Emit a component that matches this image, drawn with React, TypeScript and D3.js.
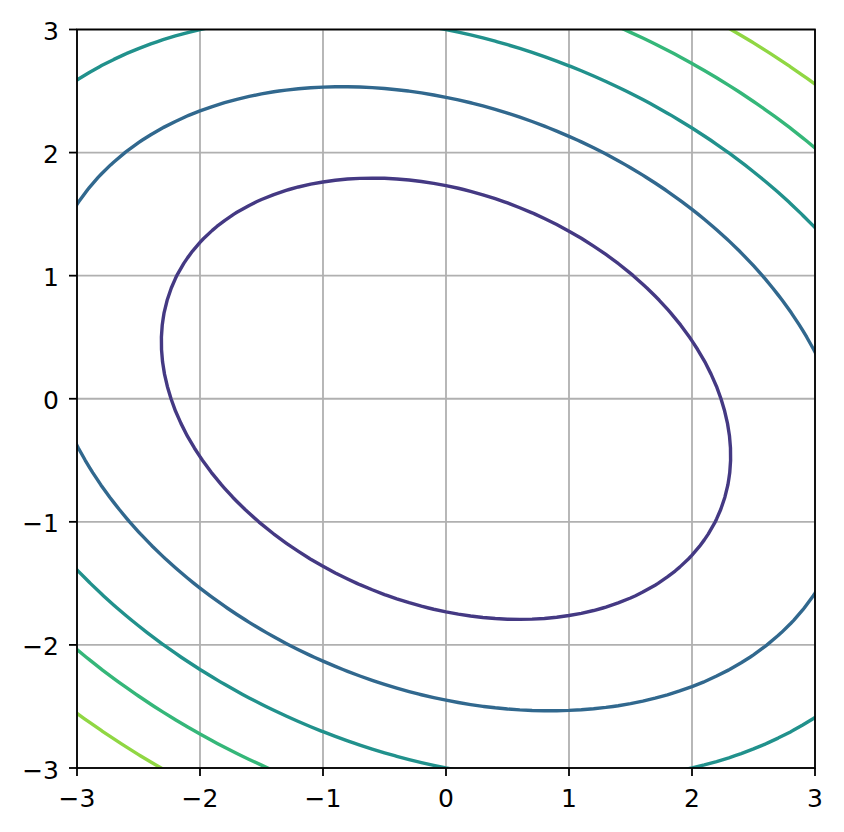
import { useEffect, useRef } from 'react'
import * as d3 from 'd3'

// quadratic form z = a*x^2 + b*x*y + c*y^2
const QUAD_COEFS = [3, 2, 5]
const LEVELS = [15, 30, 45, 60, 75]
const LEVEL_RANGE = [0, 90]
const X_TICKS = [-3, -2, -1, 0, 1, 2, 3]
const Y_TICKS = [-3, -2, -1, 0, 1, 2, 3]
const DOMAIN = [-3, 3]

const W = 844
const H = 832
const M = { left: 77, right: 29, top: 29.5, bottom: 64 }

export default function App() {
  const ref = useRef<SVGSVGElement | null>(null)

  useEffect(() => {
    if (!ref.current) return
    const svg = d3.select(ref.current)
    svg.selectAll('*').remove()

    const x = d3.scaleLinear().domain(DOMAIN).range([M.left, W - M.right])
    const y = d3.scaleLinear().domain(DOMAIN).range([H - M.bottom, M.top])
    const color = (v: number) =>
      d3.interpolateViridis((v - LEVEL_RANGE[0]) / (LEVEL_RANGE[1] - LEVEL_RANGE[0]))

    // sample grid, padded past the axes so the ring edges fall outside the clip
    const step = 0.1
    const g0 = -3.5
    const n = 71
    const [a, b, c] = QUAD_COEFS
    const values = new Array(n * n)
    for (let j = 0; j < n; j++) {
      for (let i = 0; i < n; i++) {
        const xv = g0 + i * step
        const yv = g0 + j * step
        values[j * n + i] = a * xv * xv + b * xv * yv + c * yv * yv
      }
    }
    const contours = d3.contours().size([n, n]).thresholds(LEVELS)(values)
    const proj = d3.geoTransform({
      point(px: number, py: number) {
        this.stream.point(x(g0 + (px - 0.5) * step), y(g0 + (py - 0.5) * step))
      },
    })
    const path = d3.geoPath(proj)

    svg
      .append('defs')
      .append('clipPath')
      .attr('id', 'ax-clip')
      .append('rect')
      .attr('x', M.left)
      .attr('y', M.top)
      .attr('width', W - M.left - M.right)
      .attr('height', H - M.top - M.bottom)

    const grid = svg.append('g')
    X_TICKS.forEach((t) => {
      grid
        .append('line')
        .attr('x1', x(t))
        .attr('x2', x(t))
        .attr('y1', M.top)
        .attr('y2', H - M.bottom)
        .attr('stroke', '#b0b0b0')
        .attr('stroke-width', 1.8)
    })
    Y_TICKS.forEach((t) => {
      grid
        .append('line')
        .attr('y1', y(t))
        .attr('y2', y(t))
        .attr('x1', M.left)
        .attr('x2', W - M.right)
        .attr('stroke', '#b0b0b0')
        .attr('stroke-width', 1.8)
    })

    svg
      .append('g')
      .attr('clip-path', 'url(#ax-clip)')
      .selectAll('path')
      .data(contours)
      .join('path')
      .attr('d', (d) => path(d as any))
      .attr('fill', 'none')
      .attr('stroke', (d) => color(d.value))
      .attr('stroke-width', 3.4)
      .attr('stroke-linejoin', 'round')

    svg
      .append('rect')
      .attr('x', M.left)
      .attr('y', M.top)
      .attr('width', W - M.left - M.right)
      .attr('height', H - M.top - M.bottom)
      .attr('fill', 'none')
      .attr('stroke', '#000')
      .attr('stroke-width', 1.8)

    const fmt = (t: number) => (t < 0 ? '\u2212' + Math.abs(t) : String(t))
    const font = "'DejaVu Sans', sans-serif"

    X_TICKS.forEach((t) => {
      svg
        .append('line')
        .attr('x1', x(t))
        .attr('x2', x(t))
        .attr('y1', H - M.bottom)
        .attr('y2', H - M.bottom + 8)
        .attr('stroke', '#000')
        .attr('stroke-width', 1.8)
      svg
        .append('text')
        .attr('x', x(t))
        .attr('y', H - M.bottom + 38.5)
        .attr('text-anchor', 'middle')
        .attr('font-family', font)
        .attr('font-size', 25)
        .text(fmt(t))
    })
    Y_TICKS.forEach((t) => {
      svg
        .append('line')
        .attr('x1', M.left - 8)
        .attr('x2', M.left)
        .attr('y1', y(t))
        .attr('y2', y(t))
        .attr('stroke', '#000')
        .attr('stroke-width', 1.8)
      svg
        .append('text')
        .attr('x', M.left - 18)
        .attr('y', y(t) + 10.5)
        .attr('text-anchor', 'end')
        .attr('font-family', font)
        .attr('font-size', 25)
        .text(fmt(t))
    })
  }, [])

  return (
    <svg
      ref={ref}
      width={W}
      height={H}
      style={{ display: 'block', position: 'absolute', left: 0, top: 0, background: '#fff' }}
    />
  )
}
